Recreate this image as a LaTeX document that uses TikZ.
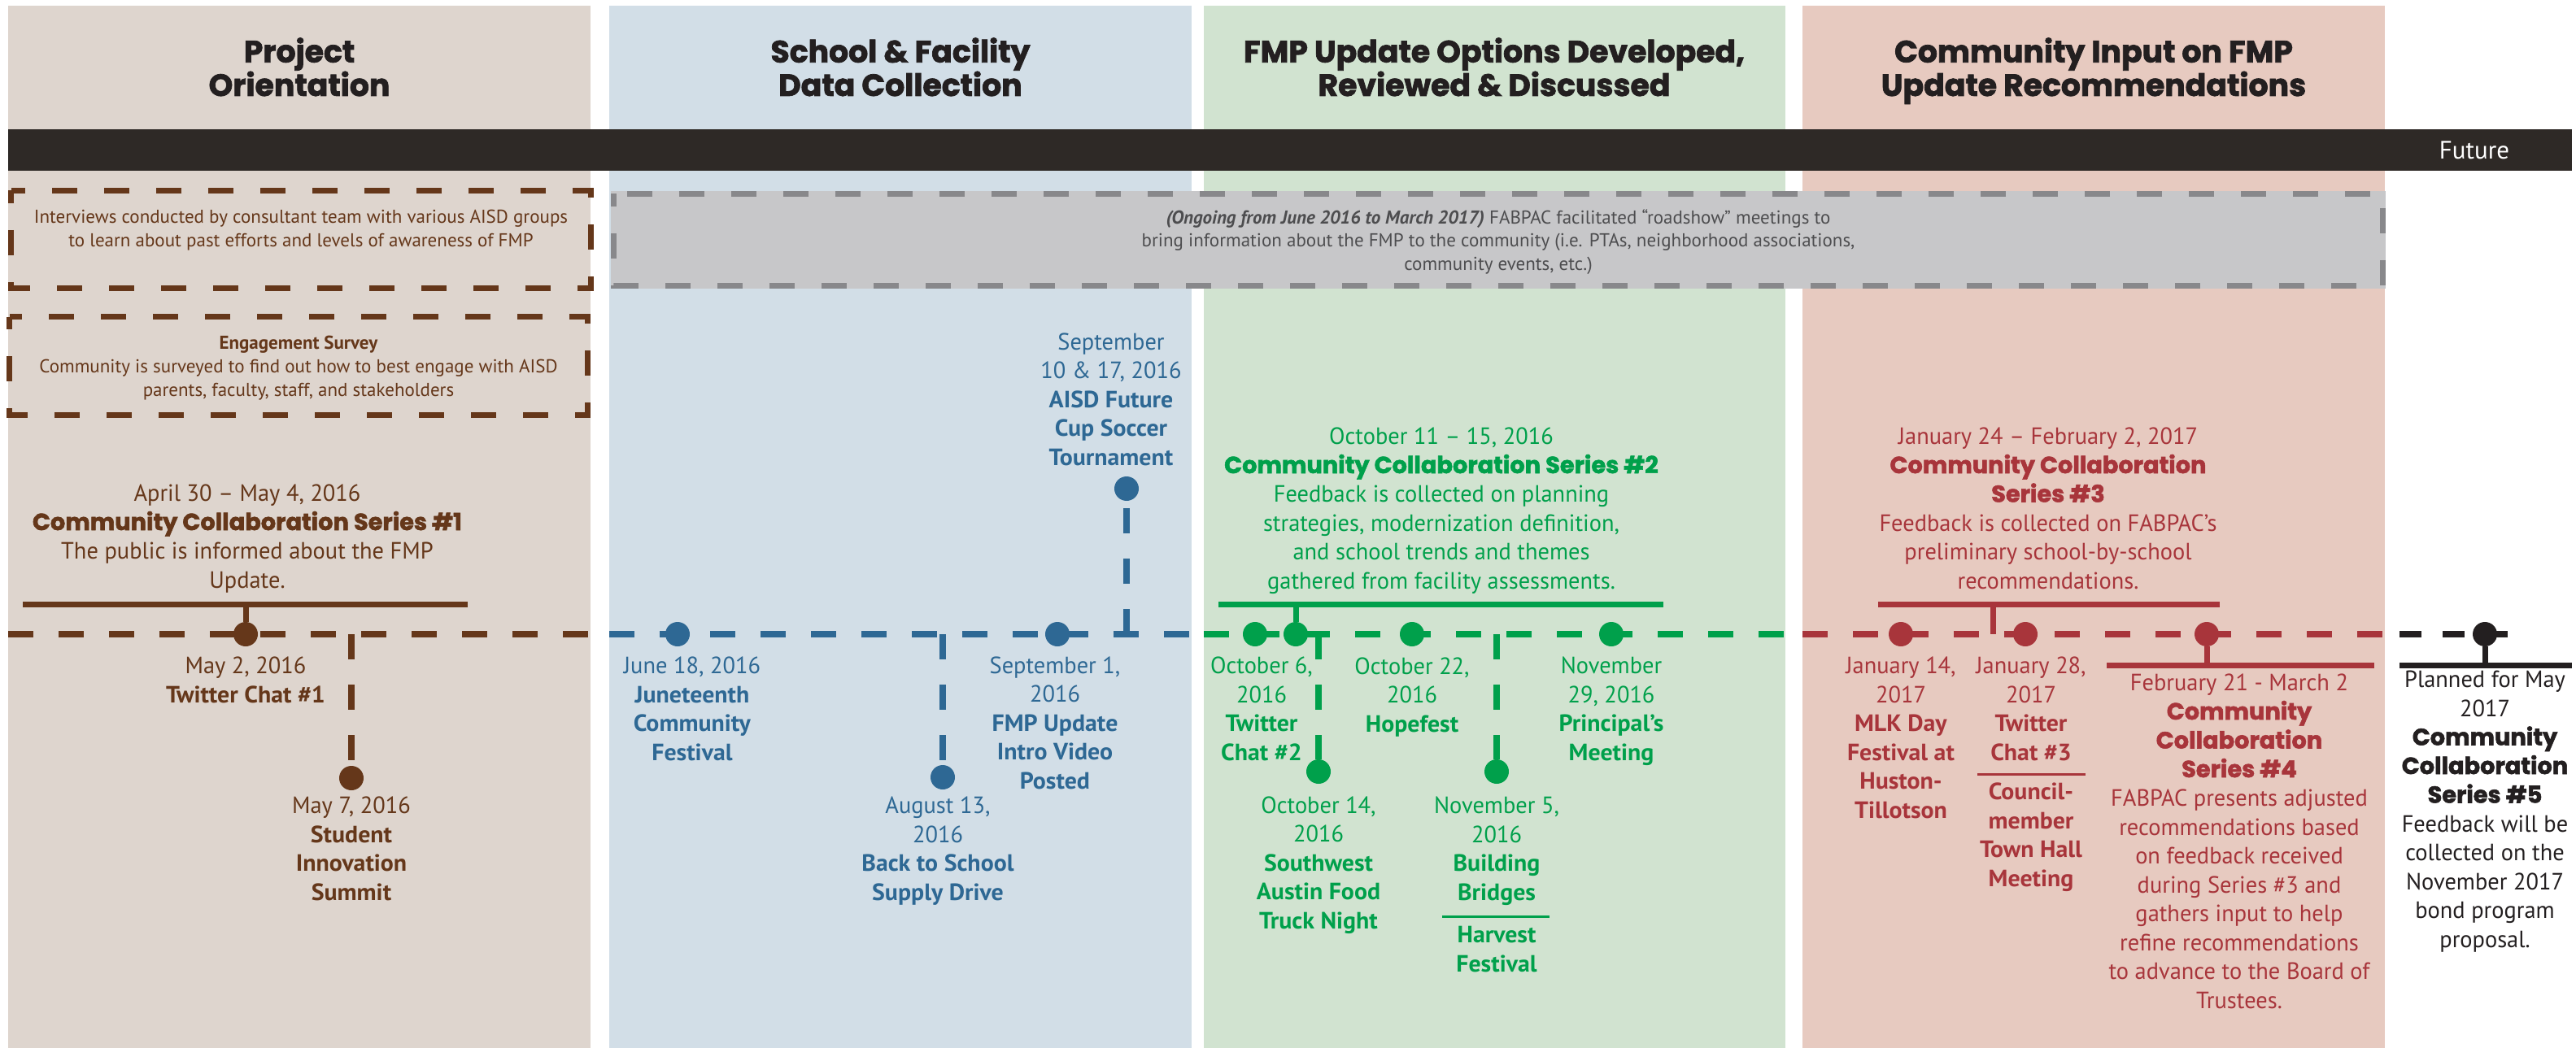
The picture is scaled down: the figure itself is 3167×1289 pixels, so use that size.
\documentclass[tikz,border=0pt]{standalone}
\usepackage{fontspec}
\newfontfamily\ptsans{PT Sans}
\newfontfamily\boxfont{PT Sans}
\newfontfamily\headfont{Poppins}[BoldFeatures={FakeBold=2}]
\usetikzlibrary{positioning}

\newdimen\wa \newdimen\wb \newdimen\wc
\settowidth\wa{\ptsans\fontsize{29}{35}\selectfont The public is informed about the FMP}
\settowidth\wb{\ptsans\fontsize{29}{35}\selectfont FABPAC presents adjusted}
\settowidth\wc{\ptsans\fontsize{29}{35}\selectfont September 1,}
\edef\regstretch{\fpeval{round(934/(\wa+\wb+\wc),3)}}
\settowidth\wa{\ptsans\bfseries\fontsize{29}{35}\selectfont Twitter Chat \#1}
\settowidth\wb{\ptsans\bfseries\fontsize{29}{35}\selectfont FMP Update}
\settowidth\wc{\ptsans\bfseries\fontsize{29}{35}\selectfont Intro Video}
\edef\boldstretch{\fpeval{round(493/(\wa+\wb+\wc),3)}}
\settowidth\wa{\headfont\bfseries\fontsize{10}{12}\selectfont Community Collaboration Series \#1}
\edef\hvsize{\fpeval{round(5280/\wa,2)}}
\settowidth\wa{\headfont\bfseries\fontsize{10}{12}\selectfont FMP Update Options Developed,}
\edef\headsize{\fpeval{round(6160/\wa,2)}}
\edef\setlabelfont{\noexpand\setmainfont{PT Sans}[UprightFeatures={FakeStretch=\regstretch},BoldFeatures={FakeStretch=\boldstretch}]}
\setlabelfont

\definecolor{bgbrown}{HTML}{DED5CE}
\definecolor{bgblue}{HTML}{D2DEE7}
\definecolor{bggreen}{HTML}{D1E3D0}
\definecolor{bgred}{HTML}{E7CAC0}
\definecolor{tlbrown}{HTML}{65371A}
\definecolor{tlblue}{HTML}{2E6894}
\definecolor{tlgreen}{HTML}{00A04B}
\definecolor{tlred}{HTML}{A8353B}
\definecolor{tlblack}{HTML}{231F20}
\definecolor{barblack}{HTML}{2E2926}
\definecolor{roadfill}{HTML}{C7C7C9}
\definecolor{roadline}{HTML}{88888B}
\definecolor{roadtext}{HTML}{4D4D4F}

\tikzset{
  heading/.style={align=center, anchor=base, inner sep=0pt, text=tlblack,
    font=\headfont\bfseries\fontsize{\headsize}{39}\selectfont},
  tline/.style={line width=8pt, dash pattern=on 31pt off 31pt},
  stem/.style={line width=8pt, dash pattern=on 31pt off 31pt},
  bar/.style={line width=7pt},
  rule/.style={line width=3pt},
  dot/.style={circle, fill, inner sep=0pt, minimum size=30pt},
  lbl/.style={align=center, anchor=base, inner sep=0pt, font=\fontsize{29}{35.5}\selectfont},
  boxtxt/.style={align=center, anchor=base, inner sep=0pt, font=\boxfont\fontsize{23}{29}\selectfont},
  dbox/.style={line width=7pt, dash pattern=on 31pt off 33pt, dash phase=15.5pt}
}
\newcommand{\hvtxt}[1]{{\headfont\bfseries\fontsize{\hvsize}{35.5}\selectfont #1}}

\begin{document}
\begin{tikzpicture}[x=1pt,y=-1pt]
\useasboundingbox (0,0) rectangle (3167,1289);
\fill[bgbrown] (10,7) rectangle (726,1289);
\fill[bgblue] (749,7) rectangle (1465,1289);
\fill[bggreen] (1480,7) rectangle (2195,1289);
\fill[bgred] (2216,7) rectangle (2932,1289);

\node[heading] (h1) at (368,118) {Project\\Orientation};
\node[heading] (h2) at (1107,118) {School \& Facility\\Data Collection};
\node[heading] (h3) at (1837,118) {FMP Update Options Developed,\\Reviewed \& Discussed};
\node[heading] (h4) at (2574,118) {Community Input on FMP\\Update Recommendations};

\fill[barblack] (10,159) rectangle (3162,210);
\node[anchor=base, text=white, inner sep=0pt, font=\boxfont\fontsize{31}{32}\selectfont] (future) at (3042,196) {Future};

\draw[dbox, tlbrown] (13.5,234.5) rectangle (726.5,354.5);
\node[boxtxt, text=tlbrown] (interviews) at (370,304) {Interviews conducted by consultant team with various AISD groups\\to learn about past efforts and levels of awareness of FMP};
\draw[dbox, tlbrown] (11.5,389.5) rectangle (722.5,510.5);
\node[boxtxt, text=tlbrown] (survey) at (367,487) {\textbf{Engagement Survey}\\Community is surveyed to find out how to best engage with AISD\\parents, faculty, staff, and stakeholders};
\fill[roadfill] (751,235) rectangle (2933,355);
\draw[dbox, roadline] (754.5,238.5) rectangle (2929.5,351.5);
\node[boxtxt, text=roadtext] (roadshow) at (1842,333) {\textbf{\textit{(Ongoing from June 2016 to March 2017)}} FABPAC facilitated “roadshow” meetings to\\bring information about the FMP to the community (i.e. PTAs, neighborhood associations,\\community events, etc.)};

\draw[tline, tlbrown] (10,780) -- (726,780);
\draw[tline, tlblue] (749,780) -- (1465,780);
\draw[tline, tlgreen] (1480,780) -- (2197,780);
\draw[tline, tlred] (2216,780) -- (2932,780);
\draw[tline, tlblack, dash pattern=on 27pt off 26pt] (2950,780) -- (3085,780);

\draw[bar, tlbrown] (28,743) -- (575,743);
\draw[bar, tlgreen] (1498,743) -- (2045,743);
\draw[bar, tlred] (2309,743) -- (2729,743);
\draw[bar, tlred] (2590,818) -- (2919,818);
\draw[bar, tlblack] (2950,818) -- (3162,818);

\node[dot, tlbrown] (d-tc1) at (302,780) {};
\node[dot, tlbrown] (d-sis) at (432,957) {};
\node[dot, tlblue] (d-jun) at (833,780) {};
\node[dot, tlblue] (d-bts) at (1159,956) {};
\node[dot, tlblue] (d-fmp) at (1300,780) {};
\node[dot, tlblue] (d-cup) at (1385,601) {};
\node[dot, tlgreen] (d-tc2) at (1543,780) {};
\node[dot, tlgreen] (d-cc2) at (1593,780) {};
\node[dot, tlgreen] (d-swa) at (1621,949) {};
\node[dot, tlgreen] (d-hop) at (1736,780) {};
\node[dot, tlgreen] (d-bb) at (1840,949) {};
\node[dot, tlgreen] (d-pm) at (1981,780) {};
\node[dot, tlred] (d-mlk) at (2337,780) {};
\node[dot, tlred] (d-tc3) at (2490,780) {};
\node[dot, tlred] (d-cc4) at (2713,780) {};
\node[dot, tlblack] (d-cc5) at (3055,780) {};

\coordinate (b-cc1) at (302,743);
\coordinate (t-sis) at (432,780);
\coordinate (t-bts) at (1159,780);
\coordinate (t-cup) at (1385,780);
\coordinate (b-cc2) at (1593,743);
\coordinate (t-swa) at (1621,780);
\coordinate (t-bb) at (1840,780);
\coordinate (b-cc3) at (2450,743);
\coordinate (t-cc3) at (2450,780);
\coordinate (b-cc4) at (2713,818);
\coordinate (b-cc5) at (3055,818);

\draw[bar, tlbrown] (b-cc1) -- (d-tc1);
\draw[stem, tlbrown] (t-sis) -- (d-sis);
\draw[stem, tlblue] (t-bts) -- (d-bts);
\draw[stem, tlblue] (t-cup) -- (d-cup);
\draw[bar, tlgreen] (b-cc2) -- (d-cc2);
\draw[stem, tlgreen] (t-swa) -- (d-swa);
\draw[stem, tlgreen] (t-bb) -- (d-bb);
\draw[bar, tlred] (b-cc3) -- (t-cc3);
\draw[bar, tlred] (d-cc4) -- (b-cc4);
\draw[bar, tlblack] (d-cc5) -- (b-cc5);

\node[lbl, text=tlbrown] (l-cc1) at (304,723) {April 30 – May 4, 2016\\\hvtxt{Community Collaboration Series \#1}\\The public is informed about the FMP\\Update.};
\node[lbl, text=tlbrown] (l-tc1) at (302,864) {May 2, 2016\\\textbf{Twitter Chat \#1}};
\node[lbl, text=tlbrown] (l-sis) at (432,1107) {May 7, 2016\\\textbf{Student}\\\textbf{Innovation}\\\textbf{Summit}};

\node[lbl, text=tlblue] (l-jun) at (851,935) {June 18, 2016\\\textbf{Juneteenth}\\\textbf{Community}\\\textbf{Festival}};
\node[lbl, text=tlblue] (l-bts) at (1153,1107) {August 13,\\2016\\\textbf{Back to School}\\\textbf{Supply Drive}};
\node[lbl, text=tlblue] (l-fmp) at (1297,970) {September 1,\\2016\\\textbf{FMP Update}\\\textbf{Intro Video}\\\textbf{Posted}};
\node[lbl, text=tlblue] (l-cup) at (1366,572) {September\\10 \& 17, 2016\\\textbf{AISD Future}\\\textbf{Cup Soccer}\\\textbf{Tournament}};

\node[lbl, text=tlgreen] (l-cc2) at (1772,724) {October 11 – 15, 2016\\\hvtxt{Community Collaboration Series \#2}\\Feedback is collected on planning\\strategies, modernization definition,\\and school trends and themes\\gathered from facility assessments.};
\node[lbl, text=tlgreen] (l-tc2) at (1551,935) {October 6,\\2016\\\textbf{Twitter}\\\textbf{Chat \#2}};
\node[lbl, text=tlgreen] (l-hop) at (1736,900) {October 22,\\2016\\\textbf{Hopefest}};
\node[lbl, text=tlgreen] (l-pm) at (1981,935) {November\\29, 2016\\\textbf{Principal’s}\\\textbf{Meeting}};
\node[lbl, text=tlgreen] (l-swa) at (1621,1142) {October 14,\\2016\\\textbf{Southwest}\\\textbf{Austin Food}\\\textbf{Truck Night}};
\node[lbl, text=tlgreen] (l-bb) at (1840,1107) {November 5,\\2016\\\textbf{Building}\\\textbf{Bridges}};
\draw[rule, tlgreen] (1773,1127) -- (1905,1127);
\node[lbl, text=tlgreen] (l-hf) at (1840,1195) {\textbf{Harvest}\\\textbf{Festival}};

\node[lbl, text=tlred] (l-cc3) at (2518,724) {January 24 – February 2, 2017\\\hvtxt{Community Collaboration}\\\hvtxt{Series \#3}\\Feedback is collected on FABPAC’s\\preliminary school-by-school\\recommendations.};
\node[lbl, text=tlred] (l-mlk) at (2337,1006) {January 14,\\2017\\\textbf{MLK Day}\\\textbf{Festival at}\\\textbf{Huston-}\\\textbf{Tillotson}};
\node[lbl, text=tlred] (l-tc3) at (2497,935) {January 28,\\2017\\\textbf{Twitter}\\\textbf{Chat \#3}};
\draw[rule, tlred] (2431,952) -- (2564,952);
\node[lbl, text=tlred] (l-th) at (2497,1090) {\textbf{Council-}\\\textbf{member}\\\textbf{Town Hall}\\\textbf{Meeting}};
\node[lbl, text=tlred] (l-cc4) at (2753,1240) {February 21 - March 2\\\hvtxt{Community}\\\hvtxt{Collaboration}\\\hvtxt{Series \#4}\\FABPAC presents adjusted\\recommendations based\\on feedback received\\during Series \#3 and\\gathers input to help\\refine recommendations\\to advance to the Board of\\Trustees.};

\node[lbl, text=tlblack] (l-cc5) at (3055,1165) {Planned for May\\2017\\\hvtxt{Community}\\\hvtxt{Collaboration}\\\hvtxt{Series \#5}\\Feedback will be\\collected on the\\November 2017\\bond program\\proposal.};
\end{tikzpicture}
\end{document}
